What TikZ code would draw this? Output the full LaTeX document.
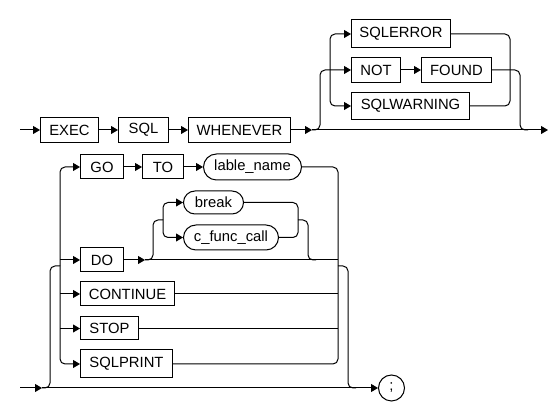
\documentclass[tikz,border=0pt]{standalone}
\usepackage{fontspec}
\setmainfont{Liberation Sans}
\usetikzlibrary{arrows.meta,shapes.misc}
\tikzset{
  kw/.style={draw, rectangle, line width=1pt, inner sep=0pt, anchor=west, minimum height=25pt, font=\fontsize{14.8}{16}\selectfont},
  term/.style={draw, rounded rectangle, line width=1pt, inner sep=0pt, anchor=west, minimum height=25pt, font=\fontsize{14.8}{16}\selectfont},
  arr/.style={line width=1pt, -{Triangle[length=7pt,width=8pt]}},
  ln/.style={line width=1pt},
  rc/.style={rounded corners=5pt}
}
\begin{document}
\begin{tikzpicture}[x=1pt,y=-1pt]
\useasboundingbox (0,0) rectangle (550,411);
% ---- line 1 ----
\node[kw, minimum width=58pt] (exec) at (40,130) {EXEC};
\node[kw, minimum width=50pt] (sql) at (118,130) {SQL};
\node[kw, minimum width=102pt] (whenever) at (188,130) {WHENEVER};
\node[kw, minimum width=99pt, minimum height=28pt] (sqlerror) at (351,34) {SQLERROR};
\node[kw, minimum width=49pt] (not) at (351,70) {NOT};
\node[kw, minimum width=70pt] (found) at (421,70) {FOUND};
\node[kw, minimum width=118pt, minimum height=27pt] (sqlwarning) at (351,106) {SQLWARNING};
\coordinate (s1) at (20,130);
\coordinate (a1) at (312,130);
\coordinate (e1) at (548,130);
\coordinate (b1) at (320,70);
\coordinate (b2) at (330,70);
\coordinate (m1) at (510,70);
\coordinate (m2) at (520,130);
\coordinate (m3) at (528,130);
\draw[arr] (s1) -- (exec.west);
\draw[arr] (exec.east) -- (sql.west);
\draw[arr] (sql.east) -- (whenever.west);
\draw[arr] (whenever.east) -- (a1);
\draw[arr] (a1) -- (e1);
\draw[arr,rc] (a1) -| (b1) -- (not.west);
\draw[arr,rc] (b2) |- (sqlerror.west);
\draw[arr,rc] (b2) |- (sqlwarning.west);
\draw[arr] (not.east) -- (found.west);
\draw[ln,rc] (sqlerror.east) -| (m1);
\draw[ln,rc] (sqlwarning.east) -| (m1);
\draw[ln,rc] (found.east) -| (m2) -- (m3);
% ---- line 2 ----
\node[kw, minimum width=43pt, minimum height=24pt] (go) at (80,167) {GO};
\node[kw, minimum width=41pt, minimum height=24pt] (to) at (142,167) {TO};
\node[term, minimum width=98pt, minimum height=26pt] (lable) at (203,167) {lable\_name};
\node[kw, minimum width=43pt, minimum height=24pt] (do) at (80,260) {DO};
\node[term, minimum width=60pt, minimum height=23pt] (break) at (183,202.5) {break};
\node[term, minimum width=95pt, minimum height=25pt] (cfunc) at (183,237.5) {c\_func\_call};
\node[kw, minimum width=94pt, minimum height=24pt] (continue) at (80,294) {CONTINUE};
\node[kw, minimum width=58pt, minimum height=23pt] (stop) at (80,328.5) {STOP};
\node[kw, minimum width=92pt, minimum height=28pt] (sqlprint) at (80,364) {SQLPRINT};
\node[draw, circle, line width=1pt, minimum size=26pt, inner sep=0pt, anchor=west, font=\fontsize{14.8}{16}\selectfont] (semi) at (378,388) {;};
\coordinate (s2) at (20,388);
\coordinate (a2) at (42,388);
\coordinate (l1) at (50,266);
\coordinate (l2) at (60,266);
\coordinate (r1) at (338,266);
\coordinate (r2) at (348,388);
\coordinate (r3) at (356,388);
\coordinate (a3) at (145,260);
\coordinate (d1) at (338,260);
\coordinate (c1) at (338,294);
\coordinate (c2) at (338,328.5);
\coordinate (p1) at (153,220);
\coordinate (p2) at (163,220);
\coordinate (q1) at (298,220);
\coordinate (q2) at (308,260);
\coordinate (q3) at (316,260);
\draw[arr] (s2) -- (a2);
\draw[arr] (a2) -- (semi.west);
\draw[ln,rc] (a2) -| (l1) -- (l2);
\draw[arr,rc] (l2) |- (go.west);
\draw[arr,rc] (l2) |- (sqlprint.west);
\draw[arr] (l2 |- do.west) -- (do.west);
\draw[arr] (l2 |- continue.west) -- (continue.west);
\draw[arr] (l2 |- stop.west) -- (stop.west);
\draw[arr] (go.east) -- (to.west);
\draw[arr] (to.east) -- (lable.west);
\draw[ln,rc] (lable.east) -| (r1);
\draw[ln,rc] (sqlprint.east) -| (r1);
\draw[ln,rc] (r1) -| (r2) -- (r3);
\draw[arr] (do.east) -- (a3);
\draw[ln] (a3) -- (d1);
\draw[ln] (continue.east) -- (c1);
\draw[ln] (stop.east) -- (c2);
\draw[ln,rc] (a3) -| (p1) -- (p2);
\draw[arr,rc] (p2) |- (break.west);
\draw[arr,rc] (p2) |- (cfunc.west);
\draw[ln,rc] (break.east) -| (q1);
\draw[ln,rc] (cfunc.east) -| (q1);
\draw[ln,rc] (q1) -| (q2) -- (q3);
\end{tikzpicture}
\end{document}
